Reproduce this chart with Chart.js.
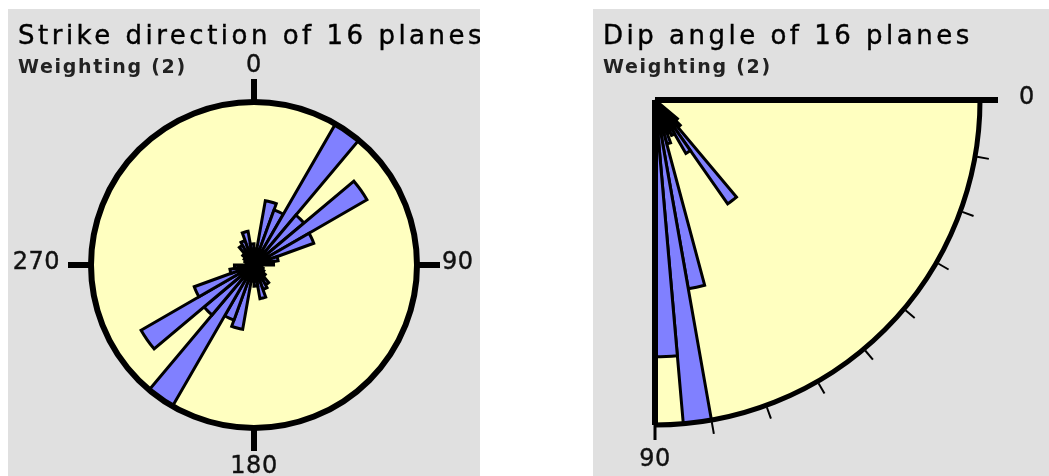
<!DOCTYPE html>
<html>
<head>
<meta charset="utf-8">
<title>Rose diagrams</title>
<script src="https://cdn.jsdelivr.net/npm/chart.js@4.4.1/dist/chart.umd.min.js"></script>
<style>
  body {
    margin: 0;
    width: 1049px;
    height: 476px;
    overflow: hidden;
    position: relative;
    background: #fff;
    font-family: "DejaVu Sans", Verdana, sans-serif;
  }
  .panel {
    position: absolute;
    top: 9px;
    height: 467px;
    background: #e0e0e0;
    overflow: hidden;
  }
  #strikePanel { left: 8px; width: 472px; }
  #dipPanel { left: 593px; width: 456px; }
  .title {
    position: absolute;
    left: 10px;
    top: 13px;
    font-size: 26px;
    line-height: 26px;
    letter-spacing: 3.5px;
    white-space: nowrap;
    color: #000;
    -webkit-text-stroke: 0.4px #000;
    z-index: 2;
  }
  .subtitle {
    position: absolute;
    left: 10px;
    top: 48px;
    font-size: 19px;
    font-weight: bold;
    line-height: 19px;
    letter-spacing: 1.7px;
    white-space: nowrap;
    color: #222;
    z-index: 2;
  }
  canvas { position: absolute; }
  #strikeChart { left: -7px; top: 3px; }
  #dipChart { left: -353px; top: -324px; }
</style>
</head>
<body>

<div class="panel" id="strikePanel">
  <canvas id="strikeChart" width="506" height="506"></canvas>
  <div class="title">Strike direction of 16 planes</div>
  <div class="subtitle">Weighting (2)</div>
</div>

<div class="panel" id="dipPanel">
  <canvas id="dipChart" width="830" height="830"></canvas>
  <div class="title">Dip angle of 16 planes</div>
  <div class="subtitle">Weighting (2)</div>
</div>

<script>
// Strike: 10 degree bins, clockwise from north
const strikeBins = [
  '0-10', '10-20', '20-30', '30-40', '40-50', '50-60', '60-70', '70-80', '80-90',
  '90-100', '100-110', '110-120', '120-130', '130-140', '140-150', '150-160', '160-170', '170-180',
  '180-190', '190-200', '200-210', '210-220', '220-230', '230-240', '240-250', '250-260', '260-270',
  '270-280', '280-290', '290-300', '300-310', '310-320', '320-330', '330-340', '340-350', '350-360'
];
const strikeValues = [
  10, 40, 36, 100, 40, 80, 39, 15, 12,
  5, 4, 6, 7, 9, 14, 16, 21, 13,
  10, 40, 36, 100, 40, 80, 39, 15, 12,
  5, 4, 6, 7, 9, 14, 16, 21, 13
];
const strikeTickAngles = [0, 90, 180, 270];
const strikeTickLabels = ['0', '90', '180', '270'];

// Dip: 5 degree bins from horizontal (0) down to vertical (90)
const dipBins = [
  '0-5', '5-10', '10-15', '15-20', '20-25', '25-30', '30-35', '35-40', '40-45',
  '45-50', '50-55', '55-60', '60-65', '65-70', '70-75', '75-80', '80-85', '85-90'
];
const dipValues = [0, 0, 0, 0, 0, 0, 0, 0, 9, 11, 39, 19, 12, 11, 14, 59, 100, 79];
const dipTickAngles = [0, 90];
const dipTickLabels = ['0', '90'];
const dipMinorTicks = [10, 20, 30, 40, 50, 60, 70, 80];

const PETAL = '#8080ff';
const PAPER = '#ffffc0';

// compass degrees (0 = up, clockwise) to canvas radians
const toCanvasAngle = deg => (deg - 90) * Math.PI / 180;

// yellow sector behind the petals, rim, ticks and axis labels on top
const roseFrame = {
  id: 'roseFrame',
  beforeDatasetsDraw(chart, args, opts) {
    const scale = chart.scales.r;
    const ctx = chart.ctx;
    const rad = scale.getDistanceFromCenterForValue(scale.max);
    ctx.save();
    ctx.fillStyle = opts.fill;
    ctx.beginPath();
    ctx.moveTo(scale.xCenter, scale.yCenter);
    ctx.arc(scale.xCenter, scale.yCenter, rad, toCanvasAngle(opts.from), toCanvasAngle(opts.to));
    ctx.closePath();
    ctx.fill();
    ctx.restore();
  },
  afterDatasetsDraw(chart, args, opts) {
    const scale = chart.scales.r;
    const ctx = chart.ctx;
    const cx = scale.xCenter;
    const cy = scale.yCenter;
    const rad = scale.getDistanceFromCenterForValue(scale.max);
    const at = (deg, dist) => {
      const a = toCanvasAngle(deg);
      return { x: cx + Math.cos(a) * dist, y: cy + Math.sin(a) * dist };
    };
    const line = (deg, r0, r1, width) => {
      const p0 = at(deg, r0);
      const p1 = at(deg, r1);
      ctx.lineWidth = width;
      ctx.beginPath();
      ctx.moveTo(p0.x, p0.y);
      ctx.lineTo(p1.x, p1.y);
      ctx.stroke();
    };

    ctx.save();
    ctx.strokeStyle = '#000';
    ctx.lineCap = 'butt';

    ctx.lineWidth = opts.rimWidth;
    ctx.beginPath();
    ctx.arc(cx, cy, rad, toCanvasAngle(opts.from), toCanvasAngle(opts.to));
    ctx.stroke();

    (opts.spokes || []).forEach(s => line(s.deg, 0, rad + s.extra, s.width));
    (opts.ticks || []).forEach(t => line(t.deg, rad + t.from, rad + t.to, t.width));

    const size = opts.labelSize;
    const cap = size * 0.73;
    ctx.fillStyle = '#111';
    ctx.strokeStyle = '#111';
    ctx.lineWidth = 0.4;
    ctx.font = size + 'px "DejaVu Sans", Verdana, sans-serif';
    ctx.letterSpacing = opts.labelSpacing;
    ctx.textBaseline = 'alphabetic';
    (opts.labels || []).forEach(l => {
      const p = at(l.deg, rad + l.dist);
      const a = ((l.deg % 360) + 360) % 360;
      let y = p.y;
      if (a === 0) {
        ctx.textAlign = 'center';
      } else if (a === 180) {
        ctx.textAlign = 'center';
        y = p.y + cap;
      } else {
        ctx.textAlign = a < 180 ? 'left' : 'right';
        y = p.y + cap / 2 + (l.dy || 0);
      }
      ctx.fillText(l.text, p.x, y);
      ctx.strokeText(l.text, p.x, y);
    });
    ctx.restore();
  }
};

function radialScale(startAngle) {
  return {
    r: {
      min: 0,
      max: 100,
      startAngle: startAngle,
      ticks: { display: false },
      grid: { display: false },
      angleLines: { display: false },
      pointLabels: { display: false }
    }
  };
}

// strike rose: full circle, north up
const strikeLabelDist = [30, 25, 27, 31];
new Chart(document.getElementById('strikeChart'), {
  type: 'polarArea',
  data: {
    labels: strikeBins,
    datasets: [{
      data: strikeValues,
      backgroundColor: PETAL,
      borderColor: '#000',
      borderWidth: 3,
      borderJoinStyle: 'miter'
    }]
  },
  options: {
    responsive: false,
    animation: false,
    layout: { padding: 90 },
    scales: radialScale(0),
    plugins: {
      legend: { display: false },
      tooltip: { enabled: false },
      roseFrame: {
        from: 0,
        to: 360,
        fill: PAPER,
        rimWidth: 6,
        ticks: strikeTickAngles.map(deg => ({ deg: deg, from: 0, to: 23, width: 6 })),
        labels: strikeTickAngles.map((deg, i) => ({
          deg: deg, text: strikeTickLabels[i], dist: strikeLabelDist[i], dy: -5
        })),
        labelSize: 24,
        labelSpacing: '0.5px'
      }
    }
  },
  plugins: [roseFrame]
});

// dip rose: quarter circle from east (0) to south (90), 5 degree petals
new Chart(document.getElementById('dipChart'), {
  type: 'polarArea',
  data: {
    labels: dipBins,
    datasets: [{
      data: dipValues,
      angle: 5,
      backgroundColor: PETAL,
      borderColor: '#000',
      borderWidth: 3,
      borderJoinStyle: 'miter'
    }]
  },
  options: {
    responsive: false,
    animation: false,
    layout: { padding: 90 },
    scales: radialScale(90),
    plugins: {
      legend: { display: false },
      tooltip: { enabled: false },
      roseFrame: {
        from: 90,
        to: 180,
        fill: PAPER,
        rimWidth: 5,
        spokes: [
          { deg: 90 + dipTickAngles[0], extra: 18, width: 6 },
          { deg: 90 + dipTickAngles[1], extra: 0, width: 6 }
        ],
        ticks: [{ deg: 90 + dipTickAngles[1], from: 0, to: 15, width: 3 }]
          .concat(dipMinorTicks.map(d => ({ deg: 90 + d, from: 2, to: 14, width: 2 }))),
        labels: [
          { deg: 90 + dipTickAngles[0], text: dipTickLabels[0], dist: 39, dy: -5 },
          { deg: 90 + dipTickAngles[1], text: dipTickLabels[1], dist: 23 }
        ],
        labelSize: 24,
        labelSpacing: '0.5px'
      }
    }
  },
  plugins: [roseFrame]
});
</script>
</body>
</html>
